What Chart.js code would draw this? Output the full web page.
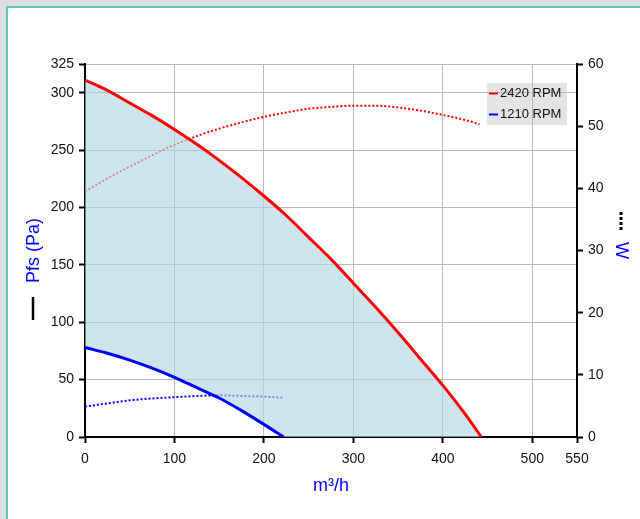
<!DOCTYPE html>
<html>
<head>
<meta charset="utf-8">
<script src="https://cdn.jsdelivr.net/npm/chart.js@4/dist/chart.umd.min.js"></script>
<style>
  html, body { margin: 0; padding: 0; background: #dcdee0; overflow: hidden; }
  #panel { position: absolute; left: 6px; top: 6px; width: 700px; height: 600px; background: #fff; border: 2px solid #5ccab6; }
  #chart { position: absolute; left: 0; top: 0; }
</style>
</head>
<body>
<div id="panel"></div>
<canvas id="chart" width="640" height="519"></canvas>
<script>
// fan curves
const flowHigh = [0, 25, 50, 75, 100, 125, 150, 175, 200, 225, 250, 275, 300, 325, 350, 375, 400, 425, 443];
const pressureHigh = [311, 302, 291, 280, 268, 255, 241, 226, 210, 193, 174, 155, 134, 113, 91, 68, 45, 20, 0];
const powerFlowHigh = [0, 25, 50, 75, 100, 125, 150, 175, 200, 225, 250, 275, 300, 325, 350, 375, 400, 425, 441];
const powerHigh = [39.5, 41.6, 43.5, 45.3, 47, 48.4, 49.6, 50.6, 51.5, 52.2, 52.8, 53.1, 53.3, 53.3, 53, 52.5, 51.8, 51, 50.3];

const flowLow = [0, 25, 50, 75, 100, 125, 150, 175, 200, 222];
const pressureLow = [78, 73, 67, 60, 52, 43, 34, 23, 11, 0];
const powerLow = [4.9, 5.4, 5.9, 6.2, 6.4, 6.6, 6.7, 6.6, 6.5, 6.3];

const legendLabels = ['2420 RPM', '1210 RPM'];
const xTicks = [0, 100, 200, 300, 400, 500, 550];
const yTicks = [0, 50, 100, 150, 200, 250, 300, 325];
const wTicks = [0, 10, 20, 30, 40, 50, 60];

const RED = '#ff0000';
const BLUE = '#0000ff';
const FONT = "'Liberation Sans', Arial, sans-serif";

Chart.defaults.font.family = FONT;
Chart.defaults.color = '#111';

function pts(xs, ys) {
  return xs.map((x, i) => ({ x: x, y: ys[i] }));
}

// lower edge of the working area: low speed curve, then the zero line
const lowerEdge = pts(flowLow, pressureLow).concat([{ x: flowHigh[flowHigh.length - 1], y: 0 }]);

const extras = {
  id: 'extras',
  beforeDraw(chart) {
    const ctx = chart.ctx;
    const a = chart.chartArea;
    ctx.save();
    ctx.fillStyle = '#e4e4e4';
    ctx.fillRect(a.right - 90, a.top + 19, 80, 42);
    ctx.restore();
  },
  afterDraw(chart) {
    const ctx = chart.ctx;
    const a = chart.chartArea;
    ctx.save();
    // legend
    const colors = [RED, BLUE];
    ctx.font = '13px ' + FONT;
    ctx.textBaseline = 'middle';
    legendLabels.forEach((t, i) => {
      const y = a.top + 29.5 + i * 21;
      ctx.strokeStyle = colors[i];
      ctx.lineWidth = 2;
      ctx.beginPath();
      ctx.moveTo(a.right - 88, y);
      ctx.lineTo(a.right - 79, y);
      ctx.stroke();
      ctx.fillStyle = '#111';
      ctx.fillText(t, a.right - 77, y);
    });
    // solid marker beside the pressure title
    ctx.strokeStyle = '#000';
    ctx.lineWidth = 2.5;
    ctx.beginPath();
    ctx.moveTo(33, 297);
    ctx.lineTo(33, 320);
    ctx.stroke();
    // dotted marker beside the power title
    ctx.lineWidth = 3;
    ctx.setLineDash([3, 2]);
    ctx.beginPath();
    ctx.moveTo(621, 212);
    ctx.lineTo(621, 231);
    ctx.stroke();
    ctx.restore();
  }
};

new Chart(document.getElementById('chart'), {
  type: 'line',
  data: {
    datasets: [
      {
        label: legendLabels[0] + ' W',
        data: pts(powerFlowHigh, powerHigh),
        yAxisID: 'w',
        borderColor: RED,
        borderWidth: 2,
        borderDash: [2, 2],
        pointRadius: 0,
        fill: false,
        order: 4,
      },
      {
        label: legendLabels[1] + ' W',
        data: pts(flowLow, powerLow),
        yAxisID: 'w',
        borderColor: BLUE,
        borderWidth: 2,
        borderDash: [2, 2],
        pointRadius: 0,
        fill: false,
        order: 3,
      },
      {
        label: legendLabels[0],
        data: pts(flowHigh, pressureHigh),
        yAxisID: 'y',
        borderColor: RED,
        borderWidth: 3,
        pointRadius: 0,
        fill: '+1',
        backgroundColor: 'rgba(178, 214, 226, 0.65)',
        order: 2,
      },
      {
        label: 'edge',
        data: lowerEdge,
        yAxisID: 'y',
        borderColor: 'transparent',
        borderWidth: 0,
        pointRadius: 0,
        fill: false,
        order: 5,
      },
      {
        label: legendLabels[1],
        data: pts(flowLow, pressureLow),
        yAxisID: 'y',
        borderColor: BLUE,
        borderWidth: 3,
        pointRadius: 0,
        fill: false,
        order: 1,
      },
    ]
  },
  options: {
    responsive: false,
    animation: false,
    devicePixelRatio: 1,
    cubicInterpolationMode: 'monotone',
    layout: { padding: { top: 64, left: 0, right: 0, bottom: 0 } },
    plugins: {
      legend: { display: false },
      tooltip: { enabled: false },
    },
    scales: {
      x: {
        type: 'linear',
        min: 0,
        max: 550,
        afterBuildTicks: (s) => { s.ticks = xTicks.map(v => ({ value: v })); },
        afterFit: (s) => { s.height = 82; },
        grid: { color: '#b8b8b8', lineWidth: 1, tickColor: '#000', tickWidth: 2, tickLength: 6 },
        border: { color: '#000', width: 2 },
        ticks: { color: '#111', font: { size: 14 }, padding: 8, maxRotation: 0, autoSkip: false },
        title: { display: true, text: 'm³/h', color: BLUE, font: { size: 18 }, padding: { top: 0, bottom: 22 } },
      },
      y: {
        type: 'linear',
        position: 'left',
        min: 0,
        max: 325,
        afterBuildTicks: (s) => { s.ticks = yTicks.map(v => ({ value: v })); },
        afterFit: (s) => { s.width = 85; },
        grid: { color: '#b8b8b8', lineWidth: 1, tickColor: '#000', tickWidth: 2, tickLength: 6 },
        border: { color: '#000', width: 2 },
        ticks: { color: '#111', font: { size: 14 }, padding: 5, autoSkip: false },
        title: { display: true, text: 'Pfs (Pa)', color: BLUE, font: { size: 18 }, padding: { top: 23, bottom: 0 } },
      },
      w: {
        type: 'linear',
        position: 'right',
        min: 0,
        max: 60,
        afterBuildTicks: (s) => { s.ticks = wTicks.map(v => ({ value: v })); },
        afterFit: (s) => { s.width = 63; },
        grid: { drawOnChartArea: false, tickColor: '#000', tickWidth: 2, tickLength: 6 },
        border: { color: '#000', width: 2 },
        ticks: { color: '#111', font: { size: 14 }, padding: 5, autoSkip: false },
        title: { display: true, text: 'W', color: BLUE, font: { size: 18 }, padding: { top: 8, bottom: 0 } },
      },
    }
  },
  plugins: [extras]
});
</script>
</body>
</html>
